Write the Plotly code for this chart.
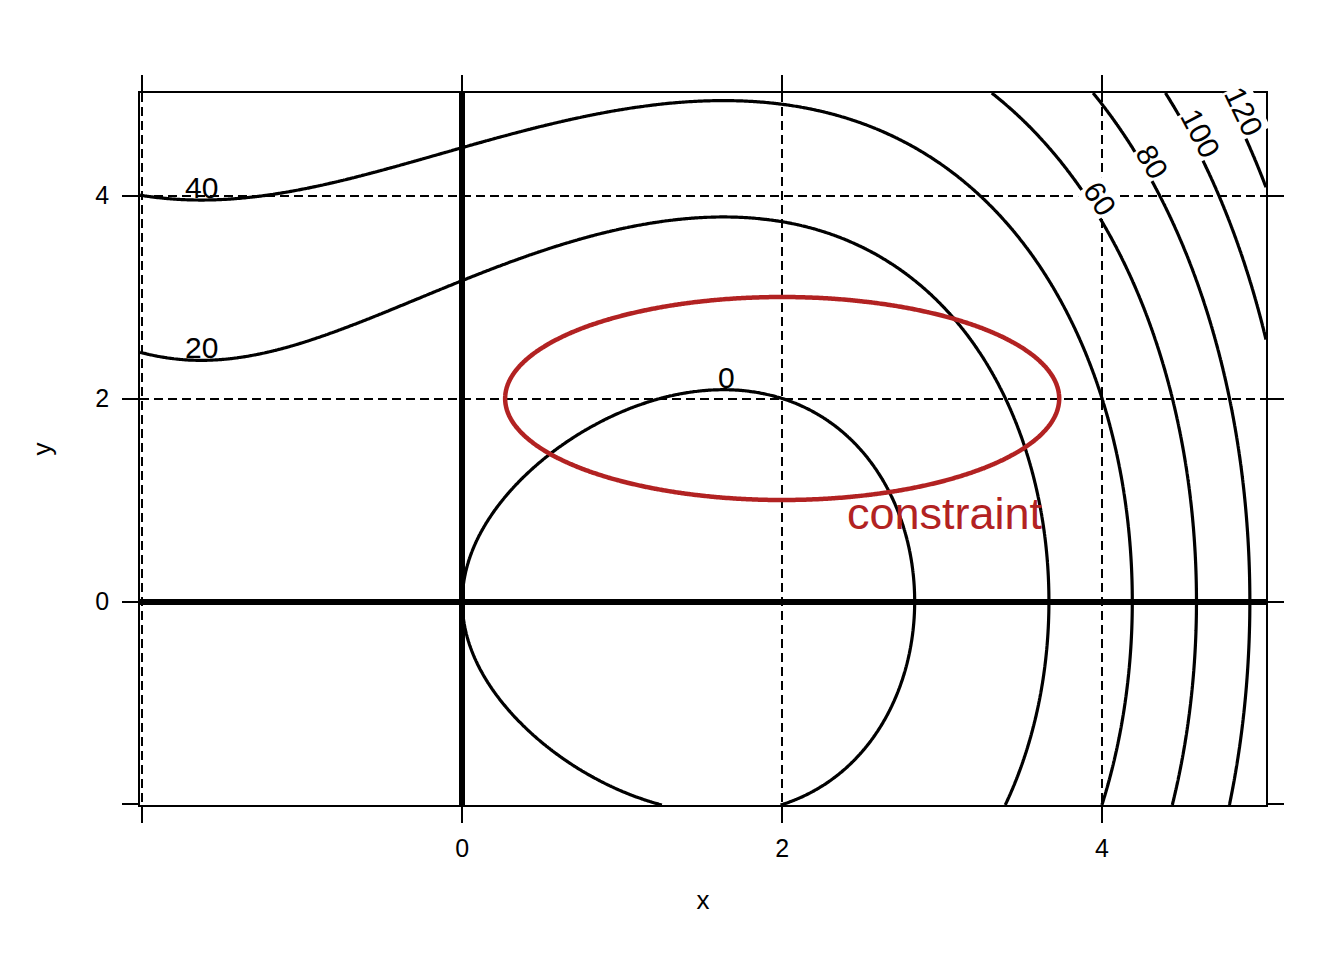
import numpy as np
import plotly.graph_objects as go

# ---- data ----
x_range = [-2.015, 5.025]
y_range = [-2.005, 5.01]
contour_levels = [0, 20, 40, 60, 80, 100, 120]
tick_vals = [-2, 0, 2, 4]
tick_text = ["", "0", "2", "4"]

# labels on the flat part of contours (level, x position)
flat_label_levels = [0, 20, 40]
flat_label_x = [1.65, -1.63, -1.63]
# labels along the steep contours (level, y position)
steep_label_levels = [60, 80, 100, 120]
steep_label_y = [3.91, 4.28, 4.55, 4.77]

# constraint ellipse: center and semi-axes
ellipse_center = [2.0, 2.0]
ellipse_axes = [3 ** 0.5, 1.0]
constraint_label_pos = [3.02, 0.87]


def f(x, y):
    return x ** 3 - 8 * x + 2 * y ** 2


W, H = 1344, 960
margin = dict(l=132, r=86, t=85, b=163)
px_x = (W - margin["l"] - margin["r"]) / (x_range[1] - x_range[0])
px_y = (H - margin["t"] - margin["b"]) / (y_range[1] - y_range[0])

xs = np.linspace(x_range[0], x_range[1], 500)
ys = np.linspace(y_range[0], y_range[1], 500)
X, Y = np.meshgrid(xs, ys)
Z = f(X, Y)

FONT = "Liberation Sans, Arial, sans-serif"
RED = "#B22222"

fig = go.Figure()
fig.add_trace(go.Contour(
    x=xs, y=ys, z=Z,
    contours=dict(start=contour_levels[0], end=contour_levels[-1],
                  size=contour_levels[1] - contour_levels[0], coloring="lines"),
    colorscale=[[0, "black"], [1, "black"]],
    line=dict(width=3.2, smoothing=1),
    showscale=False, hoverinfo="skip",
))

t = np.linspace(0, 2 * np.pi, 720)
fig.add_trace(go.Scatter(
    x=ellipse_center[0] + ellipse_axes[0] * np.cos(t),
    y=ellipse_center[1] + ellipse_axes[1] * np.sin(t),
    mode="lines", line=dict(color=RED, width=4.5, shape="spline"),
    hoverinfo="skip", showlegend=False,
))

annotations = []
for lev, lx in zip(flat_label_levels, flat_label_x):
    ly = np.sqrt((lev - (lx ** 3 - 8 * lx)) / 2)
    annotations.append(dict(x=lx, y=ly, text=str(lev), showarrow=False,
                            xanchor="center", yanchor="bottom", yshift=-6,
                            font=dict(family=FONT, size=30, color="black")))

for lev, ly in zip(steep_label_levels, steep_label_y):
    roots = np.roots([1, 0, -8, -(lev - 2 * ly ** 2)])
    lx = max(r.real for r in roots if abs(r.imag) < 1e-9)
    fx = 3 * lx ** 2 - 8
    fy = 4 * ly
    ang = np.degrees(np.arctan2(fx * px_y, fy * px_x))
    annotations.append(dict(x=lx, y=ly, text=str(lev), showarrow=False,
                            xanchor="center", yanchor="middle",
                            xshift=8, yshift=6, textangle=ang,
                            bgcolor="white", borderpad=0,
                            font=dict(family=FONT, size=30, color="black")))

annotations.append(dict(x=constraint_label_pos[0], y=constraint_label_pos[1],
                        text="constraint", showarrow=False,
                        xanchor="center", yanchor="middle",
                        font=dict(family=FONT, size=45, color=RED)))

axis_common = dict(
    tickvals=tick_vals, ticktext=tick_text,
    showline=True, linecolor="black", linewidth=1.5, mirror="allticks",
    ticks="outside", ticklen=16, tickwidth=1.5, tickcolor="black",
    showgrid=True, gridcolor="black", gridwidth=1.5, griddash="9px,5px",
    zeroline=True, zerolinecolor="black", zerolinewidth=5.5,
    tickfont=dict(family=FONT, size=25, color="black"),
    automargin=False,
)

fig.update_layout(
    width=W, height=H, margin=margin,
    paper_bgcolor="white", plot_bgcolor="white",
    showlegend=False,
    xaxis=dict(range=x_range, ticklabelstandoff=4,
               title=dict(text="x", standoff=30,
                          font=dict(family=FONT, size=26, color="black")),
               **axis_common),
    yaxis=dict(range=y_range, ticklabelstandoff=8,
               title=dict(text="y", standoff=36,
                          font=dict(family=FONT, size=26, color="black")),
               **axis_common),
    annotations=annotations,
)

fig.write_html("out.html")
